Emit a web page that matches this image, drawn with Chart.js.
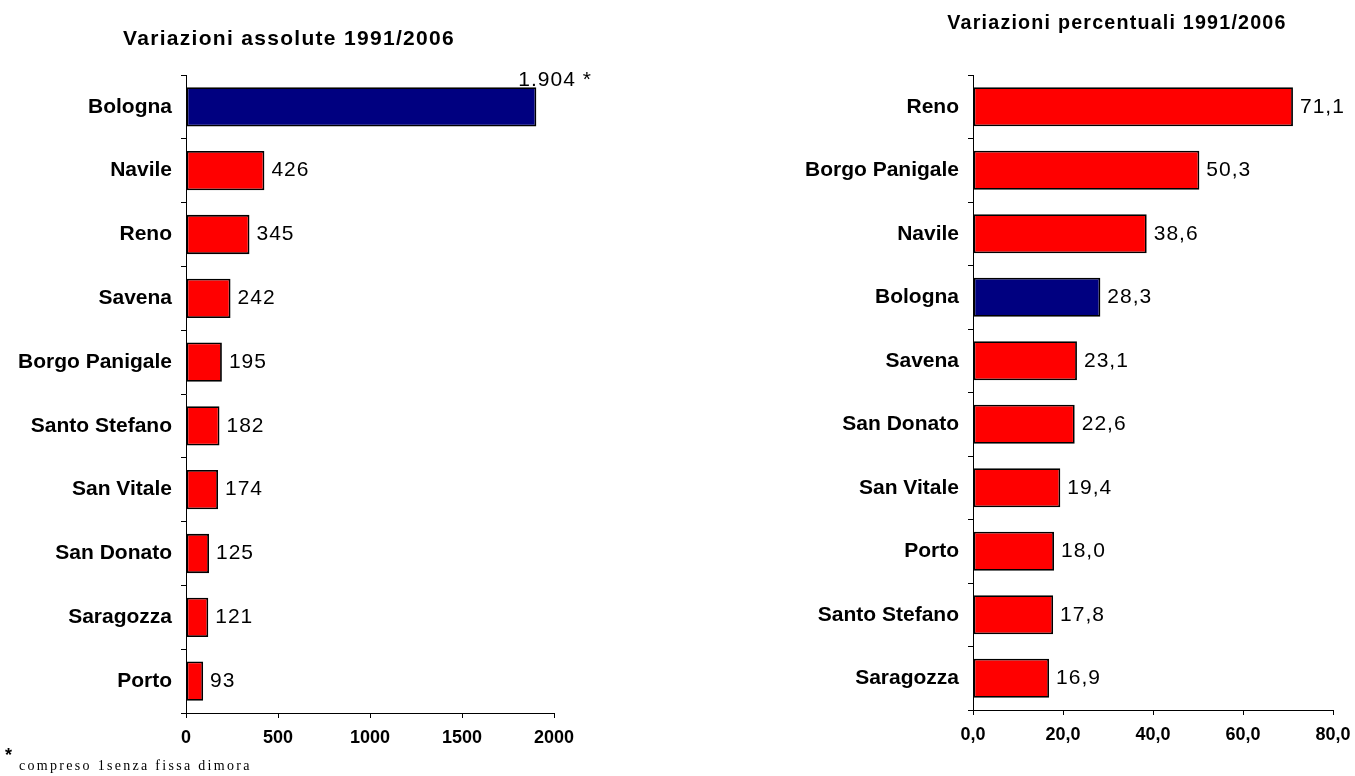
<!DOCTYPE html>
<html>
<head>
<meta charset="utf-8">
<script src="https://cdn.jsdelivr.net/npm/chart.js@4.4.1/dist/chart.umd.min.js"></script>
<style>
	body { margin: 0; background: #fff; width: 1355px; height: 776px; overflow: hidden; position: relative; font-family: "Liberation Sans", Arial, sans-serif; }
	.box { position: absolute; top: 0; }
	.title { position: absolute; font-weight: bold; white-space: nowrap; transform: translate(-50%, -50%); }
	.star { position: absolute; left: 5px; top: 745px; font-weight: bold; font-size: 18px; }
	.note { position: absolute; left: 19px; top: 758px; white-space: nowrap; font-family: "Liberation Serif", serif; font-size: 14px; letter-spacing: 2.3px; }
</style>
</head>
<body>
<div class="box" style="left:0;width:620px;height:776px"><canvas id="abs"></canvas></div>
<div class="box" style="left:680px;width:675px;height:776px"><canvas id="perc"></canvas></div>
<div class="title" style="left:289px;top:38px;font-size:21px;letter-spacing:1.3px">Variazioni assolute 1991/2006</div>
<div class="title" style="left:1117px;top:22px;font-size:19.7px;letter-spacing:1.2px">Variazioni percentuali 1991/2006</div>
<div class="star">*</div>
<div class="note">compreso 1senza fissa dimora</div>
<script>
	var absCategories = ['Bologna', 'Navile', 'Reno', 'Savena', 'Borgo Panigale', 'Santo Stefano', 'San Vitale', 'San Donato', 'Saragozza', 'Porto'];
	var absValues = [1904, 426, 345, 242, 195, 182, 174, 125, 121, 93];
	var absLabels = ['1.904 *', '426', '345', '242', '195', '182', '174', '125', '121', '93'];
	var absTicks = [0, 500, 1000, 1500, 2000];

	var percCategories = ['Reno', 'Borgo Panigale', 'Navile', 'Bologna', 'Savena', 'San Donato', 'San Vitale', 'Porto', 'Santo Stefano', 'Saragozza'];
	var percValues = [71.1, 50.3, 38.6, 28.3, 23.1, 22.6, 19.4, 18.0, 17.8, 16.9];
	var percTicks = [0, 20, 40, 60, 80];

	var NAVY = '#000080';
	var RED = '#FF0000';
	var FONT = '"Liberation Sans", Arial, sans-serif';

	function barColors(cats) {
		return cats.map(function(c) { return c == 'Bologna' ? NAVY : RED; });
	}

	function fmtComma(v) {
		return v.toFixed(1).replace('.', ',');
	}

	// value labels beside each bar; index listed in "above" goes over the bar end
	var valueLabels = {
		id: 'valueLabels',
		afterDatasetsDraw: function(chart, args, opts) {
			var ctx = chart.ctx;
			var meta = chart.getDatasetMeta(0);
			ctx.save();
			ctx.letterSpacing = '1px';
			ctx.font = '21px ' + FONT;
			ctx.fillStyle = '#000';
			ctx.textAlign = 'left';
			meta.data.forEach(function(bar, i) {
				var txt = opts.texts[i];
				if((opts.above || []).indexOf(i) != -1) {
					ctx.textBaseline = 'bottom';
					ctx.fillText(txt, bar.x - 18, bar.y - bar.height / 2 + 3);
				} else {
					ctx.textBaseline = 'middle';
					ctx.fillText(txt, bar.x + 7, bar.y);
				}
			});
			ctx.restore();
		}
	};

	function makeChart(el, cats, vals, texts, ticks, opt) {
		return new Chart(document.getElementById(el), {
			type: 'bar',
			data: {
				labels: cats,
				datasets: [{
					data: vals,
					backgroundColor: barColors(cats),
					borderColor: '#000',
					borderWidth: 1.8,
					borderSkipped: false,
					categoryPercentage: 0.8,
					barPercentage: 0.77
				}]
			},
			options: {
				indexAxis: 'y',
				responsive: true,
				maintainAspectRatio: false,
				animation: false,
				layout: {padding: {top: 75, right: opt.padRight, left: 0, bottom: 0}},
				plugins: {
					legend: {display: false},
					tooltip: {enabled: false},
					valueLabels: {texts: texts, above: opt.above}
				},
				scales: {
					x: {
						min: ticks[0],
						max: ticks[ticks.length - 1],
						afterBuildTicks: function(scale) {
							scale.ticks = ticks.map(function(v) { return {value: v}; });
						},
						afterFit: function(scale) {
							scale.height = opt.xHeight;
							// layout padding already leaves room for the last label
							scale.paddingLeft = 0;
							scale.paddingRight = 0;
						},
						grid: {drawOnChartArea: false, tickLength: 5, color: '#000', lineWidth: 1},
						border: {color: '#000', width: 1},
						ticks: {color: '#000', font: {family: FONT, size: 18, weight: 'bold'}, padding: 9, maxRotation: 0, callback: opt.tickFmt}
					},
					y: {
						afterFit: function(scale) { scale.width = opt.yWidth; },
						grid: {offset: true, drawOnChartArea: false, tickLength: 5, color: '#000', lineWidth: 1},
						border: {color: '#000', width: 1},
						ticks: {color: '#000', font: {family: FONT, size: 21, weight: 'bold'}, padding: 9}
					}
				}
			},
			plugins: [valueLabels]
		});
	}

	makeChart('abs', absCategories, absValues, absLabels, absTicks, {
		padRight: 66, xHeight: 63, yWidth: 186, above: [0],
		tickFmt: function(v) { return String(v); }
	});

	makeChart('perc', percCategories, percValues, percValues.map(fmtComma), percTicks, {
		padRight: 22, xHeight: 66, yWidth: 293, above: [],
		tickFmt: function(v) { return fmtComma(v); }
	});
</script>
</body>
</html>
